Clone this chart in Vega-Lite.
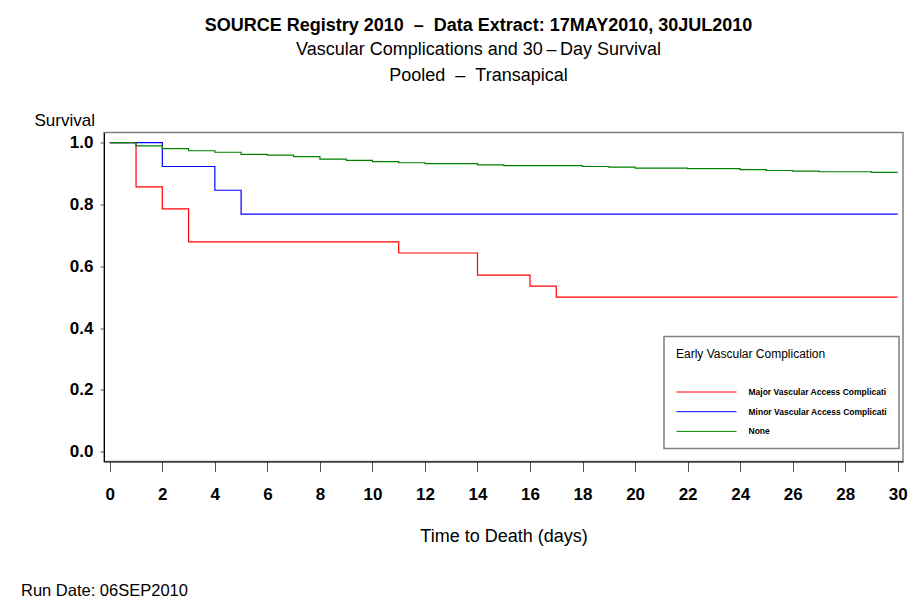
{
  "$schema": "https://vega.github.io/schema/vega-lite/v6.json",
  "width": 799,
  "height": 329,
  "padding": {"left": 20, "top": 16.5, "right": 5, "bottom": 0},
  "background": "white",
  "config": {
    "font": "Liberation Sans",
    "view": {"stroke": "#808080", "strokeWidth": 1.5},
    "legend": {"strokeWidth": 1.5}
  },
  "title": {
    "text": "SOURCE Registry 2010\u00a0\u00a0–\u00a0\u00a0Data Extract: 17MAY2010, 30JUL2010",
    "subtitle": ["Vascular Complications and 30\u2009–\u2009Day Survival", "Pooled\u00a0\u00a0–\u00a0\u00a0Transapical"],
    "anchor": "middle",
    "frame": "group",
    "dx": -25,
    "fontSize": 18,
    "fontWeight": "bold",
    "color": "black",
    "subtitleFontSize": 18,
    "subtitleColor": "black",
    "subtitleFontWeight": "normal",
    "subtitlePadding": 6,
    "subtitleLineHeight": 26,
    "offset": 27
  },
  "datasets": {
    "km": [
      {"group": "Major Vascular Access Complicati", "day": 0, "survival": 1.0},
      {"group": "Major Vascular Access Complicati", "day": 1, "survival": 0.857},
      {"group": "Major Vascular Access Complicati", "day": 2, "survival": 0.786},
      {"group": "Major Vascular Access Complicati", "day": 3, "survival": 0.679},
      {"group": "Major Vascular Access Complicati", "day": 11, "survival": 0.643},
      {"group": "Major Vascular Access Complicati", "day": 14, "survival": 0.571},
      {"group": "Major Vascular Access Complicati", "day": 16, "survival": 0.536},
      {"group": "Major Vascular Access Complicati", "day": 17, "survival": 0.5},
      {"group": "Major Vascular Access Complicati", "day": 30, "survival": 0.5},
      {"group": "Minor Vascular Access Complicati", "day": 0, "survival": 1.0},
      {"group": "Minor Vascular Access Complicati", "day": 2, "survival": 0.923},
      {"group": "Minor Vascular Access Complicati", "day": 4, "survival": 0.846},
      {"group": "Minor Vascular Access Complicati", "day": 5, "survival": 0.769},
      {"group": "Minor Vascular Access Complicati", "day": 30, "survival": 0.769},
      {"group": "None", "day": 0, "survival": 1.0},
      {"group": "None", "day": 1, "survival": 0.990},
      {"group": "None", "day": 2, "survival": 0.981},
      {"group": "None", "day": 3, "survival": 0.974},
      {"group": "None", "day": 4, "survival": 0.969},
      {"group": "None", "day": 5, "survival": 0.962},
      {"group": "None", "day": 6, "survival": 0.960},
      {"group": "None", "day": 7, "survival": 0.955},
      {"group": "None", "day": 8, "survival": 0.947},
      {"group": "None", "day": 9, "survival": 0.943},
      {"group": "None", "day": 10, "survival": 0.939},
      {"group": "None", "day": 11, "survival": 0.935},
      {"group": "None", "day": 12, "survival": 0.932},
      {"group": "None", "day": 14, "survival": 0.928},
      {"group": "None", "day": 15, "survival": 0.926},
      {"group": "None", "day": 18, "survival": 0.923},
      {"group": "None", "day": 19, "survival": 0.921},
      {"group": "None", "day": 20, "survival": 0.918},
      {"group": "None", "day": 22, "survival": 0.916},
      {"group": "None", "day": 24, "survival": 0.913},
      {"group": "None", "day": 25, "survival": 0.910},
      {"group": "None", "day": 26, "survival": 0.908},
      {"group": "None", "day": 27, "survival": 0.906},
      {"group": "None", "day": 29, "survival": 0.904},
      {"group": "None", "day": 30, "survival": 0.904}
    ]
  },
  "data": {"name": "km"},
  "encoding": {
    "y": {
      "field": "survival",
      "type": "quantitative",
      "scale": {"domain": [-0.032, 1.033], "nice": false, "zero": false},
      "axis": {
        "values": [0, 0.2, 0.4, 0.6, 0.8, 1.0],
        "format": ".1f",
        "title": "Survival",
        "titleAngle": 0,
        "titleAlign": "left",
        "titleBaseline": "middle",
        "titleX": -70,
        "titleY": -12,
        "titleFontSize": 17,
        "titleFontWeight": "normal",
        "titleColor": "black",
        "labelFontSize": 17,
        "labelFontWeight": "bold",
        "labelColor": "black",
        "tickSize": 4,
        "tickColor": "#555555",
        "domainColor": "black",
        "domainWidth": 1,
        "labelPadding": 7,
        "grid": false
      }
    },
    "color": {
      "field": "group",
      "type": "nominal",
      "scale": {
        "domain": ["Major Vascular Access Complicati", "Minor Vascular Access Complicati", "None"],
        "range": ["#ff0000", "#0000ff", "#008000"]
      },
      "legend": {
        "title": "Early Vascular Complication",
        "orient": "none",
        "legendX": 560,
        "legendY": 204,
        "padding": 12,
        "strokeColor": "#808080",
        "fillColor": "white",
        "titleFontSize": 12,
        "titleFontWeight": "normal",
        "titleColor": "black",
        "titlePadding": 21,
        "titleLimit": 400,
        "labelFontSize": 8.5,
        "labelFontWeight": "bold",
        "labelColor": "black",
        "labelLimit": 400,
        "symbolType": "M-1,0H5",
        "symbolSize": 400,
        "symbolStrokeWidth": 1,
        "symbolFillColor": "transparent",
        "labelOffset": 51.5,
        "rowPadding": 4.7,
        "encode": {
          "symbols": {
            "update": {
              "stroke": {"scale": "color", "field": "value"},
              "strokeWidth": {"value": 1},
              "fill": {"value": "transparent"}
            }
          }
        }
      }
    }
  },
  "layer": [
    {
      "transform": [{"filter": "datum.group !== 'None'"}],
      "mark": {"type": "line", "interpolate": "step-after", "strokeWidth": 1.2},
      "encoding": {
        "x": {
          "field": "day",
          "type": "quantitative",
          "scale": {"domain": [-0.22, 30.2], "nice": false, "zero": false},
          "axis": {
            "values": [0, 2, 4, 6, 8, 10, 12, 14, 16, 18, 20, 22, 24, 26, 28, 30],
            "title": "Time to Death (days)",
            "titleFontSize": 18,
            "titleFontWeight": "normal",
            "titleColor": "black",
            "titlePadding": 25,
            "labelFontSize": 17,
            "labelFontWeight": "bold",
            "labelColor": "black",
            "labelPadding": 15,
            "labelFlush": false,
            "tickSize": 10,
            "tickColor": "#555555",
            "domainColor": "black",
            "domainWidth": 1,
            "grid": false
          }
        }
      }
    },
    {
      "transform": [{"filter": "datum.group === 'None'"}],
      "mark": {"type": "line", "interpolate": "step-after", "strokeWidth": 1.2},
      "encoding": {
        "x": {
          "field": "day",
          "type": "quantitative",
          "axis": {
            "orient": "bottom",
            "domain": false,
            "ticks": false,
            "labels": false,
            "grid": false,
            "title": "Run Date: 06SEP2010",
            "titleX": -83.5,
            "titleY": 129,
            "titleAlign": "left",
            "titleBaseline": "middle",
            "titleAngle": 0,
            "titleFontSize": 16.5,
            "titleFontWeight": "normal",
            "titleColor": "black"
          }
        }
      }
    }
  ],
  "resolve": {"axis": {"x": "independent"}}
}
